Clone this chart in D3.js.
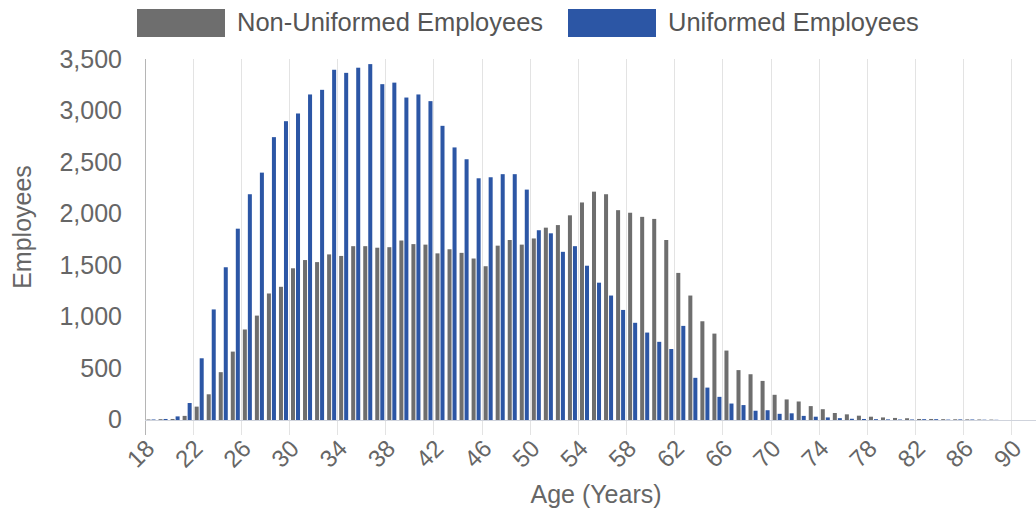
<!DOCTYPE html>
<html><head><meta charset="utf-8">
<script src="https://cdn.jsdelivr.net/npm/d3@7"></script>
<style>
body{margin:0;background:#fff}
svg{display:block;font-family:"Liberation Sans",Arial,Helvetica,sans-serif}
</style>
</head><body>
<svg id="chart" width="1036" height="511"></svg>
<script>
// ---- data ----
const ages = [18,19,20,21,22,23,24,25,26,27,28,29,30,31,32,33,34,35,36,37,38,39,40,41,42,43,44,45,46,47,48,49,50,51,52,53,54,55,56,57,58,59,60,61,62,63,64,65,66,67,68,69,70,71,72,73,74,75,76,77,78,79,80,81,82,83,84,85,86,87,88,89,90,91];
const nonUniformed = [5,8,10,40,130,250,465,665,880,1015,1230,1295,1475,1555,1535,1610,1595,1690,1690,1675,1680,1745,1710,1705,1620,1660,1625,1570,1495,1695,1750,1705,1765,1870,1895,1990,2115,2220,2195,2040,2015,1975,1955,1750,1430,1210,960,840,675,485,445,380,245,200,180,135,105,68,55,42,32,25,20,17,10,10,8,7,6,5,4,0,0,0];
const uniformed = [5,10,35,165,600,1075,1485,1860,2195,2405,2750,2905,2980,3165,3210,3405,3375,3425,3460,3265,3280,3135,3165,3100,2860,2650,2535,2350,2360,2390,2390,2240,1845,1815,1635,1690,1500,1335,1210,1070,945,850,760,690,915,410,315,225,160,145,90,95,60,65,40,32,25,18,12,10,8,6,5,5,8,8,4,6,5,3,2,0,0,0];
const seriesNames = ["Non-Uniformed Employees", "Uniformed Employees"];
const seriesColors = ["#6e6e6e", "#2c56a5"];
const yTicks = [0,500,1000,1500,2000,2500,3000,3500];
const xTicks = [18,22,26,30,34,38,42,46,50,54,58,62,66,70,74,78,82,86,90];
const xTitle = "Age (Years)";
const yTitle = "Employees";

// ---- layout ----
const svg = d3.select("#chart");
const plotLeft = 145, plotTop = 59, plotBottom = 420, plotRight = 1036;

const x = d3.scaleLinear().domain([ages[0], ages[ages.length-1] + 1]).range([plotLeft, plotRight]);
const step = x(ages[0] + 1) - x(ages[0]);
const xInner = d3.scaleBand().domain(seriesNames).range([0, step]).paddingInner(0.2).paddingOuter(0.3);
const y = d3.scaleLinear().domain([0, 3500]).range([plotBottom, 60]);

// vertical gridlines
svg.append("g").selectAll("line").data(xTicks).join("line")
  .attr("x1", d => x(d)).attr("x2", d => x(d))
  .attr("y1", plotTop).attr("y2", plotBottom + 15)
  .attr("stroke", d => d === 18 ? "#b5b5b5" : "#e3e3e3").attr("stroke-width", 1)
  .attr("shape-rendering", "crispEdges");

// x baseline
svg.append("line").attr("x1", plotLeft).attr("x2", plotRight).attr("y1", y(0)).attr("y2", y(0))
  .attr("stroke", "#cfd3dc").attr("shape-rendering", "crispEdges");

// y axis
const yAxis = d3.axisLeft(y).tickValues(yTicks).tickSize(0).tickPadding(23).tickFormat(d3.format(","));
const gy = svg.append("g").attr("transform", `translate(${plotLeft},0)`).call(yAxis);
gy.select(".domain").remove();
gy.selectAll("text").attr("font-size", 25).attr("fill", "#666").attr("dy", "0.3em")
  .attr("font-family", "'Liberation Sans', Arial, sans-serif");

// bars
const rows = ages.map((a, i) => ({age: a, values: [nonUniformed[i], uniformed[i]]}));
const groups = svg.append("g").selectAll("g").data(rows).join("g")
  .attr("transform", d => `translate(${x(d.age)},0)`);
groups.selectAll("rect").data(d => d.values.map((v, j) => ({name: seriesNames[j], v, j})))
  .join("rect")
  .attr("x", d => xInner(d.name))
  .attr("width", xInner.bandwidth())
  .attr("y", d => y(d.v))
  .attr("height", d => Math.max(0, y(0) - y(d.v)))
  .attr("fill", d => seriesColors[d.j]);

// x tick labels
svg.append("g").selectAll("text").data(xTicks).join("text")
  .attr("transform", d => `translate(${x(d) + 11},450) rotate(-45)`)
  .attr("text-anchor", "end")
  .attr("font-size", 24).attr("fill", "#666")
  .text(d => d);

// axis titles
svg.append("text").attr("x", 596).attr("y", 503).attr("text-anchor", "middle")
  .attr("font-size", 25).attr("fill", "#666").text(xTitle);
svg.append("text").attr("transform", "translate(31,227) rotate(-90)").attr("text-anchor", "middle")
  .attr("font-size", 25).attr("fill", "#666").text(yTitle);

// legend
const legendX = [137, 568];
const lg = svg.append("g").selectAll("g").data(seriesNames).join("g")
  .attr("transform", (d, i) => `translate(${legendX[i]},0)`);
lg.append("rect").attr("x", 0).attr("y", 9).attr("width", 88).attr("height", 28)
  .attr("fill", (d, i) => seriesColors[i]);
lg.append("text").attr("x", 100).attr("y", 31).attr("font-size", 25.5).attr("fill", "#555").text(d => d);
</script>
</body></html>
